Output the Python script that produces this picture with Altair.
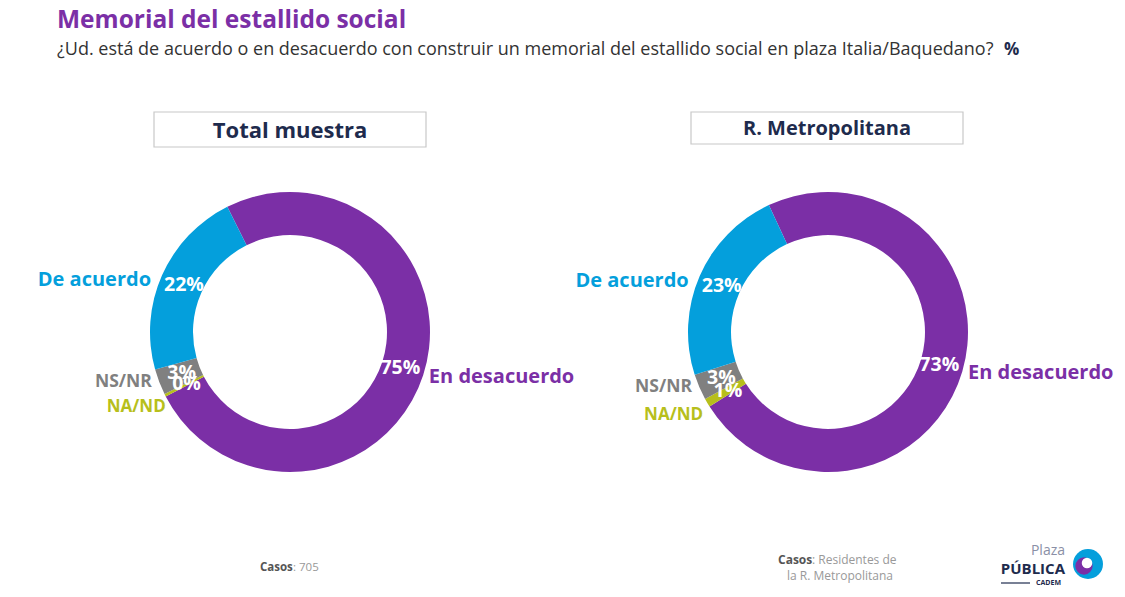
import math
import altair as alt
import pandas as pd

# ---------------- data ----------------
categories = ["En desacuerdo", "NA/ND", "NS/NR", "De acuerdo"]
colors = ["#7B2FA6", "#B7BF1C", "#808080", "#049FDC"]
total_values = [75, 0.3, 3, 22]          # NA/ND drawn as a thin sliver (label 0%)
total_labels = ["75%", "0%", "3%", "22%"]
rm_values = [73, 1, 3, 23]
rm_labels = ["73%", "1%", "3%", "23%"]
panel_titles = ["Total muestra", "R. Metropolitana"]

FONT = "Open Sans"
W, H = 1109, 581


def make_df(values, labels):
    return pd.DataFrame({
        "category": categories,
        "value": values,
        "label": labels,
        "idx": list(range(len(categories))),
    })


color_scale = alt.Scale(domain=categories, range=colors)


def donut(df, cx, cy, start_deg, na_dx):
    s = math.radians(start_deg)
    theta = alt.Theta("value:Q", stack=True, scale=alt.Scale(range=[s, s + 2 * math.pi]))
    base = alt.Chart(df).encode(
        theta=theta,
        order=alt.Order("idx:Q"),
        x=alt.value(cx),
        y=alt.value(cy),
    )
    col = alt.Color("category:N", scale=color_scale, legend=None)
    arcs = base.mark_arc(innerRadius=97, outerRadius=140, stroke=None).encode(color=col)
    pct = base.mark_text(radius=116, font=FONT, fontSize=19.5, fontWeight="bold",
                         color="white").encode(text="label:N")
    lab_left = base.transform_calculate(
        t="(datum.category == 'De acuerdo') ? datum.category : ''"
    ).mark_text(radius=152, align="right", dy=10, font=FONT, fontSize=20,
                fontWeight="bold").encode(text="t:N", color=col)
    lab_ns = base.transform_calculate(
        t="(datum.category == 'NS/NR') ? datum.category : ''"
    ).mark_text(radius=148, align="right", dy=-3, font=FONT, fontSize=17.5,
                fontWeight="bold").encode(text="t:N", color=col)
    lab_na = base.transform_calculate(
        t="(datum.category == 'NA/ND') ? datum.category : ''"
    ).mark_text(radius=146, align="right", dx=na_dx, dy=9, font=FONT, fontSize=17,
                fontWeight="bold").encode(text="t:N", color=col)
    lab_right = base.transform_calculate(
        t="(datum.category == 'En desacuerdo') ? datum.category : ''"
    ).mark_text(radius=146, align="left", font=FONT, fontSize=20,
                fontWeight="bold").encode(text="t:N", color=col)
    return [arcs, pct, lab_left, lab_ns, lab_na, lab_right]


def header(text, cx, y_top, h, size, w=272):
    d = pd.DataFrame({"t": [text]})
    box = alt.Chart(d).mark_rect(fill="white", stroke="#C8C8C8", strokeWidth=1.2).encode(
        x=alt.value(cx - w / 2), x2=alt.value(cx + w / 2),
        y=alt.value(y_top), y2=alt.value(y_top + h))
    txt = alt.Chart(d).mark_text(font=FONT, fontSize=size, fontWeight="bold",
                                 color="#1E2B4D", baseline="middle").encode(
        x=alt.value(cx), y=alt.value(y_top + h / 2 + 1), text="t:N")
    return [box, txt]


def text_at(s, x, y, size, color, weight="normal", align="left", baseline="middle"):
    d = pd.DataFrame({"t": [s]})
    return alt.Chart(d).mark_text(font=FONT, fontSize=size, fontWeight=weight,
                                  color=color, align=align, baseline=baseline).encode(
        x=alt.value(x), y=alt.value(y), text="t:N")


layers = []
# titles
layers.append(text_at("Memorial del estallido social", 49, 20, 24.5, "#7B2FA6", "bold",
                      baseline="alphabetic"))
layers.append(text_at("¿Ud. está de acuerdo o en desacuerdo con construir un memorial del "
                      "estallido social en plaza Italia/Baquedano?", 49, 42, 18, "#333333"))
layers.append(text_at("%", 996, 42, 17, "#1E2B4D", "bold"))

layers += header(panel_titles[0], 282, 104, 35, 22)
layers += header(panel_titles[1], 819, 104, 32, 20)

layers += donut(make_df(total_values, total_labels), 282, 324, -26.6, 6)
layers += donut(make_df(rm_values, rm_labels), 820, 324, -25.0, 1)

# footnotes
layers.append(text_at("Casos", 252, 560, 11.5, "#555555", "bold"))
layers.append(text_at(": 705", 285, 560, 11.5, "#999999"))
layers.append(text_at("Casos", 770, 552, 12, "#555555", "bold"))
layers.append(text_at(": Residentes de", 804, 552, 12, "#999999"))
layers.append(text_at("la R. Metropolitana", 832, 568, 12, "#999999", align="center"))

# logo
layers.append(text_at("Plaza", 1057, 543, 14, "#8A8FA6", align="right"))
layers.append(text_at("PÚBLICA", 1057, 561, 15, "#1E2B4D", "bold", align="right"))
layers.append(text_at("CADEM", 1053, 575, 7, "#1E2B4D", "bold", align="right"))
logo_d = pd.DataFrame({"t": ["logo"]})
layers.append(alt.Chart(logo_d).mark_rule(color="#1E2B4D", strokeWidth=1.2).encode(
    x=alt.value(993), x2=alt.value(1022), y=alt.value(575)))
layers.append(alt.Chart(logo_d).mark_point(shape="circle", filled=True, size=900,
                                            color="#049FDC", opacity=1).encode(
    x=alt.value(1080), y=alt.value(556)))
layers.append(alt.Chart(logo_d).mark_point(shape="circle", filled=True, size=300,
                                            color="#7B2FA6", opacity=1).encode(
    x=alt.value(1076), y=alt.value(558)))
layers.append(alt.Chart(logo_d).mark_point(shape="circle", filled=True, size=110,
                                            color="white", opacity=1).encode(
    x=alt.value(1079), y=alt.value(555)))

chart = alt.layer(*layers).resolve_scale(theta="independent").properties(
    width=W, height=H, padding=0, autosize=alt.AutoSizeParams(type="none"),
    background="white"
).configure_view(stroke=None)

chart.save("out.html", embed_options={"renderer": "svg", "actions": False})
